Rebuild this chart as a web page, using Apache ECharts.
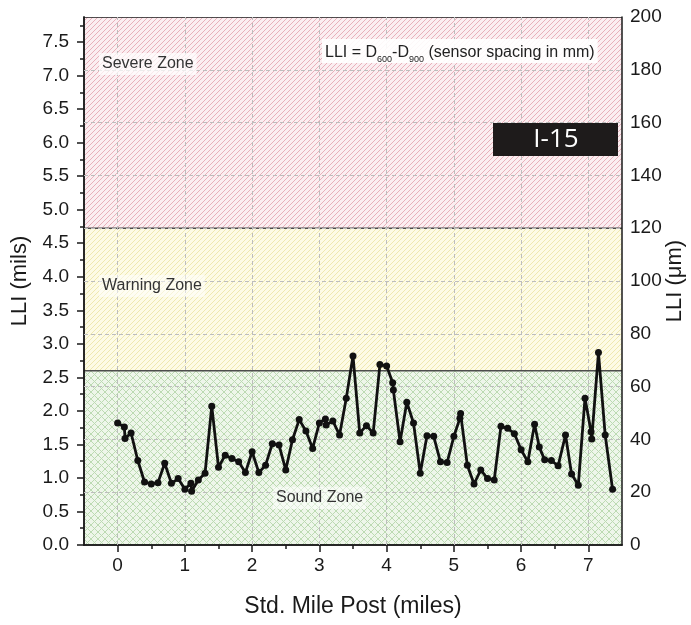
<!DOCTYPE html>
<html><head><meta charset="utf-8">
<script src="https://cdn.jsdelivr.net/npm/echarts@6/dist/echarts.min.js"></script>
<style>html,body{margin:0;padding:0;background:#fff}#c{width:691px;height:625px}</style>
</head><body><div id="c"></div>
<script>
// ---- data ----
const milePost = [0, 0.1, 0.11, 0.2, 0.3, 0.4, 0.5, 0.6, 0.7, 0.8, 0.9, 1.0, 1.09, 1.1, 1.2, 1.3, 1.4, 1.5, 1.6, 1.7, 1.8, 1.9, 2.0, 2.1, 2.2, 2.3, 2.4, 2.5, 2.6, 2.7, 2.8, 2.9, 3.0, 3.09, 3.1, 3.2, 3.3, 3.4, 3.5, 3.6, 3.7, 3.8, 3.9, 4.0, 4.09, 4.1, 4.2, 4.3, 4.4, 4.5, 4.6, 4.7, 4.8, 4.9, 5.0, 5.09, 5.1, 5.2, 5.3, 5.4, 5.5, 5.6, 5.7, 5.8, 5.9, 6.0, 6.1, 6.2, 6.27, 6.35, 6.45, 6.55, 6.66, 6.75, 6.85, 6.95, 7.04, 7.05, 7.15, 7.25, 7.36];
const lliMils = [1.82, 1.76, 1.59, 1.67, 1.26, 0.94, 0.91, 0.93, 1.22, 0.92, 0.99, 0.83, 0.92, 0.80, 0.97, 1.07, 2.07, 1.16, 1.34, 1.29, 1.24, 1.08, 1.39, 1.08, 1.19, 1.51, 1.49, 1.12, 1.57, 1.87, 1.70, 1.44, 1.82, 1.88, 1.79, 1.85, 1.64, 2.19, 2.82, 1.67, 1.78, 1.67, 2.69, 2.67, 2.42, 2.31, 1.54, 2.13, 1.82, 1.07, 1.63, 1.62, 1.24, 1.23, 1.62, 1.89, 1.96, 1.19, 0.91, 1.12, 0.99, 0.97, 1.77, 1.74, 1.66, 1.42, 1.24, 1.80, 1.46, 1.27, 1.26, 1.18, 1.64, 1.06, 0.89, 2.19, 1.69, 1.58, 2.87, 1.64, 0.83];
const xTickValues = [0, 1, 2, 3, 4, 5, 6, 7];
const xMinorTickValues = [0.5, 1.5, 2.5, 3.5, 4.5, 5.5, 6.5];
const milsTickValues = [0, 0.5, 1, 1.5, 2, 2.5, 3, 3.5, 4, 4.5, 5, 5.5, 6, 6.5, 7, 7.5];
const milsMinorTickValues = [0.25, 0.75, 1.25, 1.75, 2.25, 2.75, 3.25, 3.75, 4.25, 4.75, 5.25, 5.75, 6.25, 6.75, 7.25, 7.75];
const umTickValues = [0, 20, 40, 60, 80, 100, 120, 140, 160, 180, 200];
const zoneBounds = [0, 2.6, 4.724, 7.874]; // mils (top = 200 um)
const zoneNames = ['Sound Zone', 'Warning Zone', 'Severe Zone'];

// ---- patterns ----
function diagPattern(bg, fg, size) {
  const c = document.createElement('canvas'); c.width = size; c.height = size;
  const g = c.getContext('2d');
  g.fillStyle = bg; g.fillRect(0, 0, size, size);
  g.strokeStyle = fg; g.lineWidth = 1;
  g.beginPath();
  g.moveTo(-1, size + 1); g.lineTo(size + 1, -1);
  g.moveTo(-1, 1); g.lineTo(1, -1);
  g.moveTo(size - 1, size + 1); g.lineTo(size + 1, size - 1);
  g.stroke();
  return c;
}
function crossPattern(bg, fg, size) {
  const c = document.createElement('canvas'); c.width = size; c.height = size;
  const g = c.getContext('2d');
  g.fillStyle = bg; g.fillRect(0, 0, size, size);
  g.strokeStyle = fg; g.lineWidth = 1;
  g.beginPath();
  g.moveTo(0, 0); g.lineTo(size, size);
  g.moveTo(0, size); g.lineTo(size, 0);
  g.stroke();
  return c;
}
const patterns = [
  crossPattern('#eef6ea', '#bcdab2', 7),
  diagPattern('#fdfbe6', '#efe8b0', 5),
  diagPattern('#fbeef1', '#e8b0ba', 5)
];

const FONT = 'Liberation Sans, Arial, sans-serif';
const chart = echarts.init(document.getElementById('c'), null, {renderer: 'canvas'});
const axisLineStyle = {color: '#1a1a1a', width: 1.5};

chart.setOption({
  animation: false,
  backgroundColor: '#fff',
  grid: {left: 84, right: 69, top: 17, bottom: 80, show: false, containLabel: false, outerBoundsMode: 'none'},
  xAxis: [{
    type: 'value', min: -0.5, max: 7.5, position: 'bottom', z: 3,
    name: 'Std. Mile Post (miles)', nameLocation: 'middle', nameGap: 50,
    nameTextStyle: {fontFamily: FONT, fontSize: 23, color: '#1a1a1a'},
    axisLine: {show: true, onZero: false, lineStyle: axisLineStyle},
    axisTick: {show: true, customValues: xTickValues, length: 7, lineStyle: axisLineStyle},
    axisLabel: {customValues: xTickValues, fontFamily: FONT, fontSize: 19, color: '#1a1a1a', margin: 11},
    splitLine: {show: false}
  }, {
    type: 'value', min: -0.5, max: 7.5, position: 'bottom', z: 3,
    axisLine: {show: true, onZero: false, lineStyle: axisLineStyle},
    axisTick: {show: true, customValues: xMinorTickValues, length: 4, lineStyle: axisLineStyle},
    axisLabel: {show: false},
    splitLine: {show: false}
  }],
  yAxis: [{
    type: 'value', min: 0, max: zoneBounds[3], position: 'left', z: 3,
    name: 'LLI (mils)', nameLocation: 'middle', nameGap: 53, nameRotate: 90, nameMoveOverlap: false,
    nameTextStyle: {fontFamily: FONT, fontSize: 22, color: '#1a1a1a'},
    axisLine: {show: true, onZero: false, lineStyle: axisLineStyle},
    axisTick: {show: true, customValues: milsTickValues, length: 7, lineStyle: axisLineStyle},
    axisLabel: {customValues: milsTickValues, formatter: v => v.toFixed(1), fontFamily: FONT, fontSize: 19, color: '#1a1a1a', margin: 15},
    splitLine: {show: false}
  }, {
    type: 'value', min: 0, max: 200, interval: 20, position: 'right', z: 3,
    name: 'LLI (μm)', nameLocation: 'middle', nameGap: 42, nameRotate: 90, nameMoveOverlap: false,
    nameTextStyle: {fontFamily: FONT, fontSize: 22, color: '#1a1a1a'},
    axisLine: {show: true, onZero: false, lineStyle: axisLineStyle},
    axisTick: {show: false},
    axisLabel: {fontFamily: FONT, fontSize: 19, color: '#1a1a1a', margin: 8},
    splitLine: {show: false}
  }, {
    type: 'value', min: 0, max: zoneBounds[3], position: 'left', z: 3,
    axisLine: {show: true, onZero: false, lineStyle: axisLineStyle},
    axisTick: {show: true, customValues: milsMinorTickValues, length: 4, lineStyle: axisLineStyle},
    axisLabel: {show: false},
    splitLine: {show: false}
  }],
  series: [{
    type: 'custom', name: 'zones', z: 1, silent: true,
    xAxisIndex: 0, yAxisIndex: 0, clip: true,
    dimensions: ['lo', 'hi', 'zone'],
    encode: {y: ['lo', 'hi']},
    data: [0, 1, 2].map(i => [zoneBounds[i], zoneBounds[i + 1], i]),
    renderItem: function (params, api) {
      const cs = params.coordSys;
      const lo = api.value(0), hi = api.value(1), idx = api.value(2);
      const yTop = api.coord([0, hi])[1];
      const yBot = api.coord([0, lo])[1];
      const children = [{
        type: 'rect',
        shape: {x: cs.x, y: yTop, width: cs.width, height: yBot - yTop},
        style: {fill: {image: patterns[idx], repeat: 'repeat'}}
      }];
      if (lo > 0) {
        children.push({type: 'line', shape: {x1: cs.x, y1: yBot, x2: cs.x + cs.width, y2: yBot},
          style: {stroke: '#4d4d4d', lineWidth: 1.5}});
      }
      if (idx === 2) {
        children.push({type: 'line', shape: {x1: cs.x, y1: yTop, x2: cs.x + cs.width, y2: yTop},
          style: {stroke: '#1a1a1a', lineWidth: 1.5}});
      }
      return {type: 'group', children: children};
    }
  }, {
    type: 'line', name: 'grid', z: 1, silent: true, data: [],
    xAxisIndex: 0, yAxisIndex: 1,
    markLine: {
      silent: true, symbol: ['none', 'none'], label: {show: false},
      lineStyle: {type: [4, 3], color: '#bdbdbd', width: 1},
      data: xTickValues.map(v => ({xAxis: v}))
        .concat(umTickValues.slice(1, -1).map(v => ({yAxis: v})))
    }
  }, {
    type: 'line', name: 'LLI', z: 5,
    xAxisIndex: 0, yAxisIndex: 0,
    data: milePost.map((x, i) => [x, lliMils[i]]),
    symbol: 'circle', symbolSize: 7,
    itemStyle: {color: '#111'},
    lineStyle: {color: '#111', width: 2.8}
  }],
  graphic: [
    {type: 'text', x: 99, y: 64, z: 10, style: {text: zoneNames[2], font: '16px ' + FONT, fill: '#333', verticalAlign: 'middle', backgroundColor: 'rgba(255,255,255,0.7)', padding: [3, 3]}},
    {type: 'text', x: 99, y: 286, z: 10, style: {text: zoneNames[1], font: '16px ' + FONT, fill: '#333', verticalAlign: 'middle', backgroundColor: 'rgba(255,255,255,0.5)', padding: [3, 3]}},
    {type: 'text', x: 273, y: 498, z: 10, style: {text: zoneNames[0], font: '16px ' + FONT, fill: '#333', verticalAlign: 'middle', backgroundColor: 'rgba(255,255,255,0.5)', padding: [3, 3]}},
    {type: 'text', x: 322, y: 51, z: 10, style: {
      text: '{n|LLI = D}{s|600}{n|-D}{s|900}{n| (sensor spacing in mm)}',
      verticalAlign: 'middle', backgroundColor: 'rgba(255,255,255,0.9)', padding: [2, 3],
      rich: {
        n: {fontFamily: FONT, fontSize: 16, fill: '#222', lineHeight: 20, verticalAlign: 'bottom'},
        s: {fontFamily: FONT, fontSize: 9, fill: '#222', lineHeight: 12, verticalAlign: 'bottom', padding: [0, 0, -3, 0]}
      }
    }},
    {type: 'rect', z: 10, shape: {x: 493, y: 123, width: 125, height: 33}, style: {fill: '#1e1b1b'}},
    {type: 'text', x: 556, y: 140, z: 11, style: {text: 'I-15', font: '26px "Open Sans", sans-serif', fill: '#fff', align: 'center', verticalAlign: 'middle'}}
  ]
});
</script>
</body></html>
